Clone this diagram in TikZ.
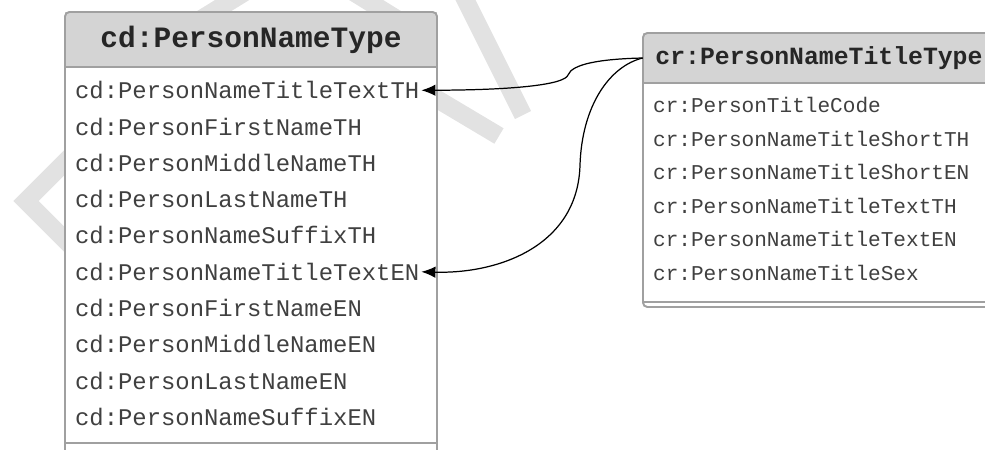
\documentclass[tikz,border=0pt]{standalone}
\usepackage{fontspec}
\setmonofont{Liberation Mono}
\usepackage{tikz}
\usetikzlibrary{arrows.meta}
\definecolor{boxgray}{HTML}{A0A0A0}
\definecolor{headgray}{HTML}{D4D4D4}
\definecolor{itemgray}{HTML}{404040}
\definecolor{markgray}{HTML}{E2E2E2}
\tikzstyle{arrow} = [line width=0.7pt,-{Latex[length=8pt,width=6.5pt]}]
\tikzstyle{boxline} = [draw=boxgray,line width=1.1pt]
\tikzstyle{wmark} = [draw=markgray,line width=0.36cm,line join=miter]
\tikzstyle{head} = [fill=headgray,inner sep=0pt,text=black!85]
\tikzstyle{cditem} = [anchor=mid west,inner sep=1pt,text=itemgray,
    font=\ttfamily\fontsize{13.6}{16}\selectfont]
\tikzstyle{critem} = [anchor=mid west,inner sep=1pt,text=itemgray,
    font=\ttfamily\fontsize{12}{14}\selectfont]

\begin{document}
\begin{tikzpicture}[x=0.02cm,y=-0.02cm]
        \useasboundingbox (0,0) rectangle (985,450);
        \clip (0,0) rectangle (985,450);
        % watermark
        \draw [wmark] (90,137) -- (26,201) -- (90,265);
        \draw [wmark] (190,26) -- (250,-11);
        \draw [wmark] (350,-10) -- (400,21);
        \draw [wmark] (458,-15) -- (523,115);
        \draw [wmark] (400,77) -- (499,136);
        % boxes
        \fill [white] (65,12) rectangle (437,480);
        \fill [white] (643,33) rectangle (995,307);
        \node (cdhead)[head,
            minimum width=7.44cm,
            minimum height=1.1cm,
            font=\ttfamily\bfseries\fontsize{16.8}{20}\selectfont] at (251,39.5) {cd:PersonNameType};
        \node (crhead)[head,
            minimum width=7.04cm,
            minimum height=1cm,
            font=\ttfamily\bfseries\fontsize{14.1}{17}\selectfont] at (819,58) {cr:PersonNameTitleType};
        \node (cdTitleTH)[cditem] at (73,95) {cd:PersonNameTitleTextTH};
        \node (cdFirstTH)[cditem] at (73,131.3) {cd:PersonFirstNameTH};
        \node (cdMiddleTH)[cditem] at (73,167.6) {cd:PersonMiddleNameTH};
        \node (cdLastTH)[cditem] at (73,203.9) {cd:PersonLastNameTH};
        \node (cdSuffixTH)[cditem] at (73,240.2) {cd:PersonNameSuffixTH};
        \node (cdTitleEN)[cditem] at (73,276.5) {cd:PersonNameTitleTextEN};
        \node (cdFirstEN)[cditem] at (73,312.8) {cd:PersonFirstNameEN};
        \node (cdMiddleEN)[cditem] at (73,349.1) {cd:PersonMiddleNameEN};
        \node (cdLastEN)[cditem] at (73,385.4) {cd:PersonLastNameEN};
        \node (cdSuffixEN)[cditem] at (73,421.7) {cd:PersonNameSuffixEN};
        \node (crCode)[critem] at (651,109) {cr:PersonTitleCode};
        \node (crShortTH)[critem] at (651,142.5) {cr:PersonNameTitleShortTH};
        \node (crShortEN)[critem] at (651,176) {cr:PersonNameTitleShortEN};
        \node (crTextTH)[critem] at (651,209.5) {cr:PersonNameTitleTextTH};
        \node (crTextEN)[critem] at (651,243) {cr:PersonNameTitleTextEN};
        \node (crSex)[critem] at (651,276.5) {cr:PersonNameTitleSex};
        \draw [boxline] (cdhead.south west) -- (cdhead.south east);
        \draw [boxline] (crhead.south west) -- (crhead.south east);
        \draw [boxline] (65,443) -- (437,443);
        \draw [boxline] (643,302) -- (995,302);
        \draw [boxline,rounded corners=2.5pt] (65,12) rectangle (437,480);
        \draw [boxline,rounded corners=2.5pt] (643,33) rectangle (995,307);
        % links
        \draw [arrow] (crhead.west) .. controls (600,59) and (572,64) .. (568,75)
            .. controls (565,84) and (520,90) .. (cdTitleTH.east);
        \draw [arrow] (crhead.west) .. controls (610,66) and (582,105) .. (580,165)
            .. controls (578,245) and (500,274) .. (cdTitleEN.east);
    \end{tikzpicture}
\end{document}
